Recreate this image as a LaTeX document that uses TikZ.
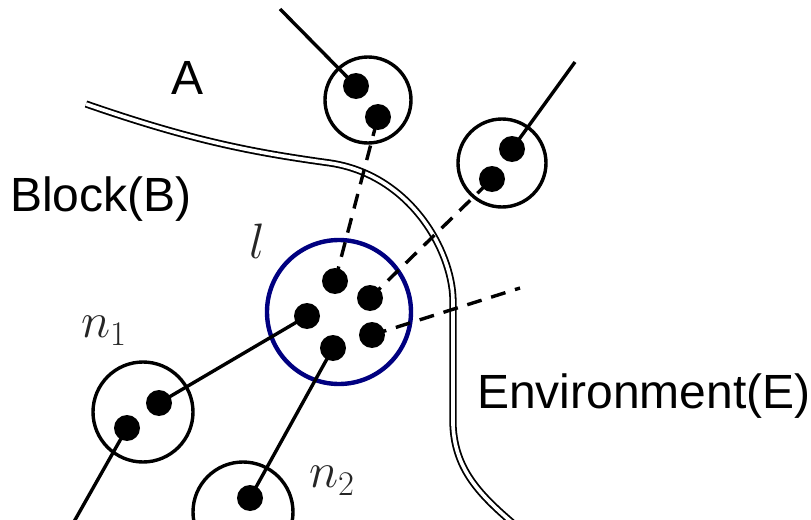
\documentclass[tikz,border=0pt]{standalone}
\usepackage{fontspec}
\setmainfont{Liberation Sans}
\usepackage{xcolor}
\usepackage{tikz}
\definecolor{LinkBlue}{HTML}{000080}

\begin{document}
\begin{tikzpicture}[x=0.5pt, y=-0.5pt,
            cell/.style={draw, circle, line width=1.7pt, inner sep=0pt},
            dot/.style={fill, circle, inner sep=0pt, minimum size=13pt},
            bond/.style={line width=1.7pt},
            weak/.style={line width=1.7pt, dash pattern=on 7.5pt off 5pt},
            label/.style={font=\fontsize{24}{29}\selectfont},
            sym/.style={text=black!85, font=\fontsize{23.5}{28}\selectfont}
        ]
            \useasboundingbox (0,0) rectangle (811,520);
            \clip (0,0) rectangle (811,520);

            % boundary between block and environment
            \draw[double, line width=0.9pt, double distance=1.8pt]
                (86,104) .. controls (190,140) and (250,152) .. (330,163)
                .. controls (410,175) and (452,250) .. (453,300) -- (453,425)
                .. controls (455,470) and (480,495) .. (515,525);

            % cells
            \node[cell, draw=LinkBlue, line width=2.2pt, minimum size=72pt] (l) at (339,312) {};
            \node[cell, minimum size=43pt] (ta) at (368,100) {};
            \node[cell, minimum size=44pt] (tb) at (502,163) {};
            \node[cell, minimum size=50pt] (na) at (143,412) {};
            \node[cell, minimum size=50pt] (nb) at (243,512) {};

            % free ends
            \coordinate (ta0) at (280,9);
            \coordinate (tb0) at (575,62);
            \coordinate (na0) at (71,527);
            \coordinate (l0) at (520,288);

            % particles
            \node[dot] (l1) at (335,281) {};
            \node[dot] (l2) at (370,298) {};
            \node[dot] (l3) at (307,316) {};
            \node[dot] (l4) at (372,335) {};
            \node[dot] (l5) at (333,348) {};
            \node[dot] (ta1) at (356,86) {};
            \node[dot] (ta2) at (378,117) {};
            \node[dot] (tb1) at (512,149) {};
            \node[dot] (tb2) at (492,179) {};
            \node[dot] (na1) at (159,403) {};
            \node[dot] (na2) at (127,428) {};
            \node[dot] (nb1) at (250,498) {};

            % links
            \draw[bond] (ta0) -- (ta1.center);
            \draw[bond] (tb0) -- (tb1.center);
            \draw[bond] (na1.center) -- (l3.center);
            \draw[bond] (na2.center) -- (na0);
            \draw[bond] (nb1.center) -- (l5.center);
            \draw[weak] (l1.center) -- (ta2.center);
            \draw[weak] (l2.center) -- (tb2.center);
            \draw[weak] (l4.center) -- (l0);

            % labels
            \node[label] (a) at (188,78) {A};
            \node[label] (blk) at (101,199) {Block(B)};
            \node[label] (env) at (644,396) {Environment(E)};
            \node[sym] (ll) at (257,241) {$l$};
            \node[sym] (n1) at (104,331) {$n_1$};
            \node[sym] (n2) at (332,481) {$n_2$};
        \end{tikzpicture}
\end{document}
